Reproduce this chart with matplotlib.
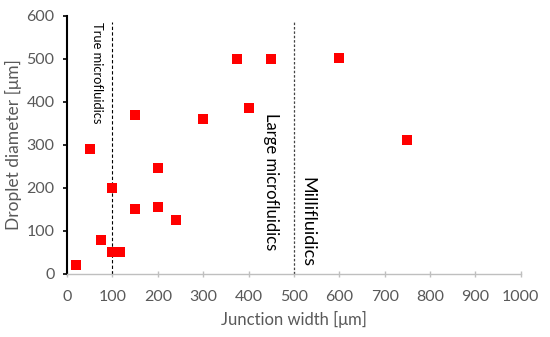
import matplotlib
matplotlib.use("Agg")
import matplotlib.pyplot as plt

# Datos
ancho_union = [20, 50, 75, 100, 100, 117, 150, 150, 200, 200, 240, 300, 375, 400, 450, 600, 750]
diametro_gota = [20, 290, 80, 200, 50, 50, 370, 150, 246, 155, 125, 360, 500, 385, 500, 502, 312]

limites_regimen = [100, 500]
x_ticks = list(range(0, 1001, 100))
y_ticks = list(range(0, 601, 100))

gris = "#595959"
plt.rcParams["font.family"] = ["Lato", "DejaVu Sans"]

fig = plt.figure(figsize=(5.5, 3.37), dpi=100)
ax = fig.add_axes([0.122, 0.187, 0.825, 0.766])

ax.scatter(ancho_union, diametro_gota, marker="s", s=42, color="#ff0000", zorder=3, linewidths=0)

ax.vlines(limites_regimen[0], 0, 585, colors="black", linestyles=(0, (3, 2)), linewidth=0.8)
ax.vlines(limites_regimen[1], 0, 585, colors="#444444", linestyles=(0, (2, 1.5)), linewidth=0.9)

ax.text(52, 586, "True microfluidics", rotation=-90, ha="left", va="top", fontsize=9.3, color="black")
ax.text(432, 375, "Large microfluidics", rotation=-90, ha="left", va="top", fontsize=12, color="black")
ax.text(511, 225, "Millifluidics", rotation=-90, ha="left", va="top", fontsize=13, color="black")

ax.set_xlim(0, 1000)
ax.set_ylim(0, 600)
ax.set_xticks(x_ticks)
ax.set_yticks(y_ticks)

ax.spines["top"].set_visible(False)
ax.spines["right"].set_visible(False)
ax.spines["left"].set_color("black")
ax.spines["left"].set_linewidth(1.5)
ax.spines["bottom"].set_color("#bfbfbf")
ax.spines["bottom"].set_linewidth(1.0)

ax.tick_params(axis="y", direction="out", length=3, width=1.2, color="black", labelcolor=gris, labelsize=11.5, pad=6)
ax.tick_params(axis="x", direction="inout", length=5, width=1.0, color="#bfbfbf", labelcolor=gris, labelsize=11.5, pad=9)

ax.set_xlabel("Junction width [μm]", color=gris, fontsize=12, labelpad=5)
ax.set_ylabel("Droplet diameter [μm]", color=gris, fontsize=12.5, labelpad=3)

fig.savefig("out.png", dpi=100)
